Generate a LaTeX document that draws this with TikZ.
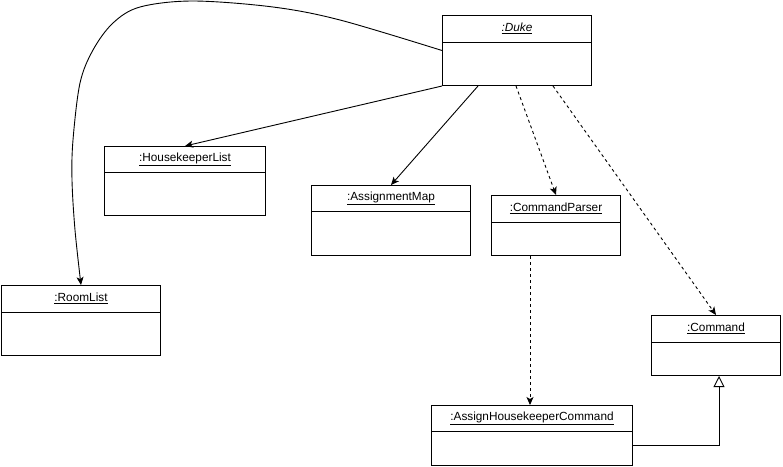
\documentclass[tikz,border=0pt]{standalone}
\usepackage{fontspec}
\setmainfont{Liberation Sans}
\usetikzlibrary{arrows.meta,calc}
\tikzset{
  cls/.style={draw, line width=1pt, rectangle, inner sep=0pt, anchor=north west, fill=white},
  ttl/.style={inner sep=0pt, font=\fontsize{11.8}{14}\selectfont},
  assoc/.style={line width=0.9pt, -{Stealth[length=8pt,width=7pt,inset=2pt]}},
  dep/.style={assoc, dash pattern=on 3pt off 3pt},
  gen/.style={line width=0.9pt, -{Triangle[open,length=11pt,width=11pt]}}
}
\newcommand{\umlobj}[7]{%
  \node[cls, minimum width=#4pt, minimum height=#5pt] (#1) at (#2,#3) {};
  \draw[line width=1pt] ([yshift=-#6pt]#1.north west) -- ([yshift=-#6pt]#1.north east);
  \node[ttl] (#1-t) at ([yshift=-#6pt/2]#1.north) {\underline{#7}};
}
\begin{document}
\begin{tikzpicture}[x=1pt,y=-1pt]
\useasboundingbox (0,0) rectangle (783,466);
\umlobj{duke}{442}{15}{149}{70}{27}{\textit{:Duke}}
\umlobj{hk}{104}{146}{161}{69}{26}{:HousekeeperList}
\umlobj{am}{311}{185}{159}{70}{26}{:AssignmentMap}
\umlobj{cp}{491}{195}{129}{60}{27}{:CommandParser}
\umlobj{rl}{1}{285}{159}{70}{27}{:RoomList}
\umlobj{cmd}{651}{315}{129}{60}{27}{:Command}
\umlobj{ahc}{431}{405}{201}{60}{26}{:AssignHousekeeperCommand}

\draw[assoc] plot[smooth, tension=0.55] coordinates {(duke.west) (340,20) (273,7) (193,1) (140,7) (113,23) (93,50) (80,83) (73,140) (72,180) (75,230) (rl.north)};
\draw[assoc] (duke.south west) -- (hk.north);
\draw[assoc] ([xshift=36pt]duke.south west) -- (am.north);
\draw[dep] ([xshift=74pt]duke.south west) -- (cp.north);
\draw[dep] ([xshift=111pt]duke.south west) -- (cmd.north);
\draw[dep] ([xshift=39pt]cp.south west) -- ([xshift=39pt]cp.south west |- ahc.north);
\draw[gen] ([yshift=-10pt]ahc.east) -| ([xshift=3pt]cmd.south);
\end{tikzpicture}
\end{document}
